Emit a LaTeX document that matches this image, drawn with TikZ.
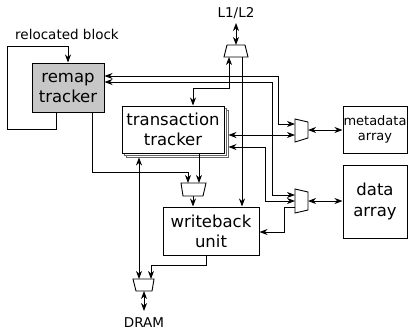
\documentclass[tikz,border=0pt]{standalone}
\usepackage{fontspec}
\setmainfont{DejaVu Sans}
\usetikzlibrary{arrows.meta}
\begin{document}
\begin{tikzpicture}[x=1pt,y=-1pt,
  blk/.style={draw, line width=1pt, inner sep=0pt, align=center, fill=white, font=\fontsize{16.5}{20}\selectfont},
  shd/.style={blk, draw=black!60, line width=0.9pt},
  conn/.style={line width=0.9pt},
  arr/.style={conn, -{Stealth[length=8pt,width=6pt,inset=2.5pt]}},
  darr/.style={conn, {Stealth[length=8pt,width=6pt,inset=2.5pt]}-{Stealth[length=8pt,width=6pt,inset=2.5pt]}},
  mux/.style={draw, line width=0.9pt, fill=white},
  lbl/.style={font=\fontsize{13.5}{15}\selectfont, inner sep=0pt}
]
\useasboundingbox (0,0) rectangle (414,333);

% boxes
\node[blk, fill=black!22, minimum width=72pt, minimum height=49pt] (remap) at (68,87.5) {remap\\tracker};
\node[shd, minimum width=102pt, minimum height=47pt] (trans2) at (177,133.5) {};
\node[shd, minimum width=102pt, minimum height=47pt] (trans1) at (175,131.5) {};
\node[blk, minimum width=102pt, minimum height=47pt] (trans) at (173,129.5) {transaction\\tracker};
\node[blk, minimum width=96pt, minimum height=48pt] (wb) at (211,231) {writeback\\unit};
\node[blk, minimum width=64pt, minimum height=47pt, font=\fontsize{13}{15}\selectfont] (meta) at (375,129.5) {metadata\\array};
\node[blk, minimum width=64pt, minimum height=73pt, font=\fontsize{16.5}{21}\selectfont] (data) at (375,201.5) {data\\array};

% labels
\node[lbl] (reloc) at (67,34) {relocated block};
\node[lbl] (l1) at (236,13) {L1/L2};
\node[lbl] (dram) at (144,323) {DRAM};

% muxes
\draw[mux] (227,45) -- (245,45) -- (248,57) -- (224,57) -- cycle;
\draw[mux] (295,119) -- (308,122) -- (308,138) -- (295,142) -- cycle;
\draw[mux] (295,189) -- (308,192) -- (308,210) -- (295,213) -- cycle;
\draw[mux] (181,183) -- (206,183) -- (203,196) -- (183,196) -- cycle;
\draw[mux] (133,279) -- (154,279) -- (152,291) -- (136,291) -- cycle;

% mux pins
\coordinate (m1o) at (236,45); \coordinate (m1a) at (229,57); \coordinate (m1b) at (242,57);
\coordinate (m2a) at (295,124); \coordinate (m2b) at (295,135); \coordinate (m2o) at (308,130);
\coordinate (m3a) at (295,195); \coordinate (m3b) at (295,201); \coordinate (m3c) at (295,207); \coordinate (m3o) at (308,201);
\coordinate (m4a) at (188,183); \coordinate (m4b) at (199,183); \coordinate (m4o) at (193,196);
\coordinate (m5a) at (139,279); \coordinate (m5b) at (151,279); \coordinate (m5o) at (144,291);

% helper bends
\coordinate (r1) at (278,76); \coordinate (r2) at (272,82); \coordinate (r3) at (92,172);
\coordinate (t1) at (193,88); \coordinate (t3) at (265,147);
\coordinate (w1) at (206,265); \coordinate (d1) at (284,232);
\coordinate (lp1) at (56,129); \coordinate (lp2) at (7,46); \coordinate (lp3) at (68,46);
\coordinate (l2) at (236,23); \coordinate (d2) at (144,311);

% connectors
\draw[arr] (remap.south -| lp1) -- (lp1) -| (lp2) -- (lp3) -- (remap.north);
\draw[darr] (remap.east |- r1) -- (r1) |- (m2a);
\draw[darr] (remap.east |- r2) -- (r2) |- (m3a);
\draw[darr] (trans.north -| t1) -- (t1) -| (m1a);
\draw[darr] (trans2.east |- m2b) -- (m2b);
\draw[darr] (trans2.east |- t3) -- (t3) |- (m3b);
\draw[arr] (m1b) -- (m1b |- wb.north);
\draw[arr] (remap.south -| r3) -- (r3) -| (m4a);
\draw[arr] (trans.south -| m4b) -- (m4b);
\draw[arr] (m4o) -- (m4o |- wb.north);
\draw[arr] (wb.south -| w1) -- (w1) -| (m5b);
\draw[arr] (m3c) -| (d1) -- (wb.east |- d1);
\draw[darr] (trans2.south -| m5a) -- (m5a);
\draw[darr] (m5o) -- (d2);
\draw[darr] (m1o) -- (l2);
\draw[darr] (m2o) -- (meta.west |- m2o);
\draw[darr] (m3o) -- (data.west |- m3o);
\end{tikzpicture}
\end{document}
